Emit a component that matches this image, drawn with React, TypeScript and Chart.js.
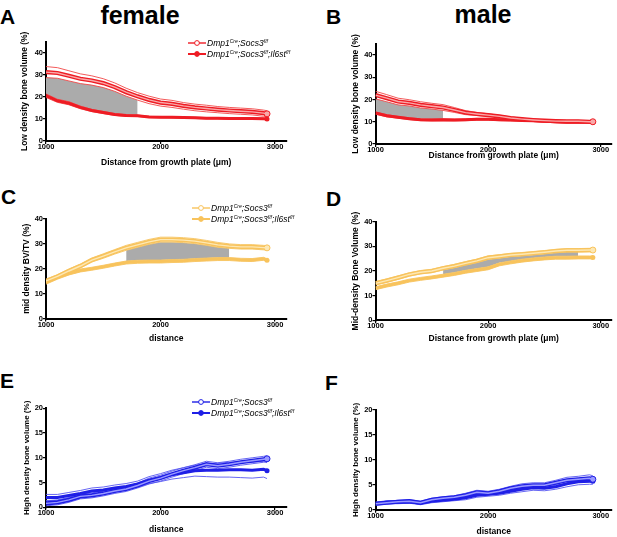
import React, { useEffect, useRef } from 'react';
import Chart from 'chart.js/auto';

// distance from growth plate (µm), shared by every panel
const distance = [1000, 1100, 1200, 1300, 1400, 1500, 1600, 1700, 1800, 1900, 2000, 2100, 2200, 2300, 2400, 2500, 2600, 2700, 2800, 2900, 2930];
const xTicks = [1000, 2000, 3000];

// A - female, low density
const aSocsMean = [31.2, 30.8, 29.5, 28.2, 27.4, 26.2, 24.4, 22.1, 20.2, 18.6, 17.4, 16.8, 15.9, 15.2, 14.7, 14.2, 13.8, 13.5, 13.2, 12.6, 12.3];
const aSocsSem = [2.5, 2.4, 2.3, 2.2, 2.1, 2.0, 1.9, 1.8, 1.7, 1.7, 1.6, 1.6, 1.5, 1.5, 1.5, 1.4, 1.4, 1.4, 1.4, 1.4, 1.4];
const aIl6Mean = [20.5, 18.2, 17.1, 15.2, 13.8, 12.9, 12.0, 11.5, 11.4, 10.9, 10.8, 10.7, 10.6, 10.5, 10.3, 10.3, 10.2, 10.2, 10.2, 10.1, 10.0];
const aIl6Sem = [0.8, 0.7, 0.7, 0.6, 0.5, 0.5, 0.4, 0.4, 0.3, 0.3, 0.3, 0.3, 0.3, 0.3, 0.3, 0.3, 0.3, 0.3, 0.3, 0.3, 0.3];
const aShade = [1000, 1800];

// B - male, low density
const bSocsMean = [22.0, 20.6, 19.1, 18.5, 17.6, 17.0, 16.4, 15.3, 14.1, 13.5, 13.0, 12.4, 11.7, 11.2, 10.8, 10.5, 10.3, 10.2, 10.2, 10.0, 10.0];
const bSocsSem = [1.7, 1.6, 1.5, 1.4, 1.4, 1.3, 1.3, 1.1, 0.9, 0.7, 0.6, 0.5, 0.5, 0.4, 0.4, 0.4, 0.4, 0.4, 0.4, 0.4, 0.4];
const bIl6Mean = [13.9, 12.7, 12.0, 11.4, 10.9, 10.8, 10.9, 10.8, 10.9, 11.1, 11.1, 10.9, 10.8, 10.6, 10.5, 10.2, 10.0, 9.8, 9.8, 9.8, 9.8];
const bIl6Sem = [0.5, 0.5, 0.4, 0.4, 0.4, 0.4, 0.4, 0.4, 0.4, 0.4, 0.4, 0.4, 0.4, 0.4, 0.4, 0.4, 0.4, 0.4, 0.4, 0.4, 0.4];
const bShade = [1000, 1600];

// C - female, mid density
const cSocsMean = [15.1, 16.9, 19.1, 21.1, 23.5, 25.1, 26.8, 28.4, 29.6, 30.8, 31.7, 31.7, 31.5, 31.1, 30.4, 29.6, 29.1, 28.8, 28.8, 28.5, 28.4];
const cSocsSem = [0.7, 0.7, 0.8, 0.8, 0.8, 0.9, 0.9, 1.0, 1.0, 1.0, 1.0, 1.0, 1.0, 1.0, 1.0, 1.0, 0.9, 0.9, 0.9, 0.9, 0.9];
const cIl6Mean = [14.4, 16.4, 18.1, 19.3, 20.0, 20.8, 21.7, 22.5, 22.8, 22.9, 22.9, 23.1, 23.2, 23.5, 23.7, 23.9, 23.9, 23.6, 23.5, 24.0, 23.4];
const cIl6Sem = [0.6, 0.6, 0.6, 0.6, 0.6, 0.6, 0.6, 0.6, 0.6, 0.6, 0.6, 0.6, 0.6, 0.6, 0.6, 0.6, 0.6, 0.6, 0.6, 0.6, 0.6];
const cShade = [1700, 2600];

// D - male, mid density
const dSocsMean = [15.0, 16.1, 17.3, 18.6, 19.5, 20.0, 21.1, 22.0, 23.1, 24.1, 25.4, 25.9, 26.5, 26.8, 27.2, 27.6, 28.1, 28.4, 28.4, 28.5, 28.5];
const dSocsSem = [0.7, 0.7, 0.7, 0.7, 0.7, 0.7, 0.7, 0.7, 0.7, 0.7, 0.7, 0.7, 0.7, 0.7, 0.7, 0.7, 0.7, 0.7, 0.7, 0.7, 0.7];
const dIl6Mean = [13.0, 14.1, 15.0, 16.1, 16.8, 17.4, 18.1, 18.8, 19.7, 20.4, 21.1, 22.7, 23.5, 24.2, 24.7, 25.1, 25.4, 25.4, 25.5, 25.5, 25.5];
const dIl6Sem = [0.6, 0.6, 0.6, 0.6, 0.6, 0.6, 0.6, 0.6, 0.6, 0.6, 0.6, 0.6, 0.6, 0.6, 0.6, 0.6, 0.6, 0.6, 0.6, 0.6, 0.6];
const dShade = [1600, 2800];

// E - female, high density
const eSocsMean = [0.8, 1.0, 1.5, 2.2, 2.4, 2.8, 3.3, 3.7, 4.4, 5.3, 5.9, 6.7, 7.4, 8.0, 8.7, 8.4, 8.7, 9.1, 9.4, 9.7, 9.8];
const eSocsSem = [0.5, 0.5, 0.5, 0.5, 0.5, 0.5, 0.5, 0.5, 0.5, 0.6, 0.6, 0.6, 0.6, 0.6, 0.6, 0.6, 0.6, 0.6, 0.6, 0.6, 0.6];
const eIl6Mean = [2.0, 2.0, 2.4, 2.8, 3.3, 3.5, 3.9, 4.2, 4.7, 5.5, 6.0, 6.6, 7.0, 7.4, 7.5, 7.5, 7.6, 7.6, 7.5, 7.7, 7.4];
const eIl6Sem = [0.6, 0.6, 0.6, 0.6, 0.6, 0.6, 0.6, 0.6, 0.6, 0.7, 0.8, 0.9, 1.0, 1.1, 1.3, 1.4, 1.5, 1.6, 1.6, 1.6, 1.6];

// F - male, high density
const fSocsMean = [1.2, 1.4, 1.6, 1.7, 1.4, 2.0, 2.3, 2.5, 2.9, 3.5, 3.3, 3.7, 4.3, 4.7, 4.9, 4.9, 5.4, 5.9, 6.1, 6.3, 6.1];
const fSocsSem = [0.3, 0.3, 0.3, 0.3, 0.3, 0.3, 0.3, 0.3, 0.4, 0.4, 0.4, 0.4, 0.4, 0.5, 0.5, 0.5, 0.5, 0.6, 0.6, 0.7, 0.7];
const fIl6Mean = [1.2, 1.5, 1.5, 1.6, 1.3, 1.7, 1.9, 2.1, 2.4, 2.9, 3.1, 3.3, 3.7, 4.1, 4.4, 4.3, 4.6, 5.2, 5.6, 5.7, 5.7];
const fIl6Sem = [0.3, 0.3, 0.3, 0.3, 0.3, 0.3, 0.3, 0.3, 0.4, 0.4, 0.4, 0.4, 0.4, 0.5, 0.5, 0.5, 0.5, 0.6, 0.6, 0.6, 0.6];

const FONT = '"Liberation Sans", Arial, Helvetica, sans-serif';
const GREY = '#ababab';
const RED = { main: '#ee1c24', light: '#f9a9a9', thin: '#f24848' };
const YELLOW = { main: '#f8c35c', light: '#fde8b4', thin: '#f6c462' };
const BLUE = { main: '#1f1fe6', light: '#9a9aff', thin: '#5656f2' };

type Palette = { main: string; light: string; thin: string };
type Group = { mean: number[]; sem: number[] };

interface PanelProps {
  left: number;
  top: number;
  width: number;
  height: number;
  yW: number;
  padTop: number;
  padRight: number;
  xH: number;
  yMax: number;
  yTicks: number[];
  yTitle: string;
  yTitlePad: number;
  yTitleSize: number;
  xTitle: string;
  pal: Palette;
  socs: Group;
  il6: Group;
  shade?: number[];
}

const Panel: React.FC<PanelProps> = (p) => {
  const canvasRef = useRef<HTMLCanvasElement | null>(null);

  useEffect(() => {
    if (!canvasRef.current) return;
    const meanPts = (g: Group) => distance.map((x, i) => ({ x, y: g.mean[i] }));
    const envPts = (g: Group, k: number) =>
      distance.map((x, i) => ({ x, y: +(g.mean[i] + k * g.sem[i]).toFixed(2) }));
    const last = distance.length - 1;

    const datasets: any[] = [];
    if (p.shade) {
      const inRange = (pt: { x: number }) => pt.x >= p.shade![0] && pt.x <= p.shade![1];
      datasets.push({
        data: envPts(p.socs, -1).filter(inRange),
        borderColor: 'rgba(0,0,0,0)', borderWidth: 0, backgroundColor: GREY,
        fill: 1, order: 10, pointRadius: 0,
      });
      datasets.push({
        data: envPts(p.il6, 1).filter(inRange),
        borderColor: 'rgba(0,0,0,0)', borderWidth: 0, fill: false, order: 10, pointRadius: 0,
      });
    }
    const thin = { borderColor: p.pal.thin, borderWidth: 0.9, fill: false, pointRadius: 0, order: 3 };
    datasets.push({ ...thin, data: envPts(p.socs, 1) });
    datasets.push({ ...thin, data: envPts(p.socs, -1) });
    datasets.push({ ...thin, data: envPts(p.il6, 1) });
    datasets.push({ ...thin, data: envPts(p.il6, -1) });
    datasets.push({
      data: meanPts(p.il6), borderColor: p.pal.main, borderWidth: 3, fill: false, order: 2,
      pointRadius: (c: any) => (c.dataIndex === last ? 2.5 : 0),
      pointBackgroundColor: p.pal.main, pointBorderColor: p.pal.main, pointBorderWidth: 0,
    });
    datasets.push({
      data: meanPts(p.socs), borderColor: p.pal.main, borderWidth: 4.2, fill: false, order: 1,
      pointRadius: (c: any) => (c.dataIndex === last ? 3 : 0),
      pointBackgroundColor: p.pal.light, pointBorderColor: p.pal.main, pointBorderWidth: 1,
    });
    datasets.push({
      data: meanPts(p.socs), borderColor: p.pal.light, borderWidth: 1.4, fill: false, order: 0,
      pointRadius: 0,
    });

    const tickFont = { family: FONT, size: 7.5, weight: 'bold' as const };
    const xTitleFont = { family: FONT, size: 8.5, weight: 'bold' as const, lineHeight: 1.2 };
    const yTitleFont = { family: FONT, size: p.yTitleSize, weight: 'bold' as const, lineHeight: 1.2 };
    const grid = { display: true, drawOnChartArea: false, drawTicks: true, tickLength: 3, color: '#000', lineWidth: 1.2 };
    const border = { display: true, color: '#000', width: 2 };

    const chart = new Chart(canvasRef.current, {
      type: 'line',
      data: { datasets },
      options: {
        animation: false,
        responsive: false,
        maintainAspectRatio: false,
        layout: { padding: { left: 0, top: p.padTop, right: p.padRight, bottom: 0 } },
        plugins: { legend: { display: false }, tooltip: { enabled: false } },
        elements: { line: { tension: 0 } },
        scales: {
          x: {
            type: 'linear',
            min: 1000,
            max: 3100,
            afterBuildTicks: (s: any) => { s.ticks = xTicks.map((v) => ({ value: v })); },
            afterFit: (s: any) => { s.height = p.xH; },
            ticks: { font: tickFont, color: '#000', padding: -1.5, maxRotation: 0, autoSkip: false, callback: (v: any) => String(v) },
            grid,
            border,
            title: { display: true, text: p.xTitle, font: xTitleFont, color: '#000', padding: { top: 0, bottom: 0 } },
          },
          y: {
            type: 'linear',
            min: 0,
            max: p.yMax,
            afterBuildTicks: (s: any) => { s.ticks = p.yTicks.map((v) => ({ value: v })); },
            afterFit: (s: any) => { s.width = p.yW; },
            ticks: { font: tickFont, color: '#000', padding: 0, autoSkip: false, callback: (v: any) => String(v) },
            grid,
            border,
            title: { display: true, text: p.yTitle, font: yTitleFont, color: '#000', padding: { top: p.yTitlePad, bottom: 0 } },
          },
        },
      },
    });
    return () => chart.destroy();
  }, [p]);

  return (
    <canvas
      ref={canvasRef}
      width={p.width}
      height={p.height}
      style={{ position: 'absolute', left: p.left, top: p.top, width: p.width, height: p.height }}
    />
  );
};

const sup: React.CSSProperties = { fontSize: 5, position: 'relative', top: -3, lineHeight: 0 };

const Legend: React.FC<{ left: number; top: number; pal: Palette }> = ({ left, top, pal }) => {
  const row = (y: number, open: boolean, label: React.ReactNode) => (
    <div style={{ position: 'absolute', left, top: y, height: 11, display: 'flex', alignItems: 'center', whiteSpace: 'nowrap' }}>
      <svg width={18} height={8} style={{ marginRight: 1 }}>
        <line x1={0} y1={4} x2={18} y2={4} stroke={pal.main} strokeWidth={open ? 1.4 : 2} />
        <circle cx={9} cy={4} r={2.4} fill={open ? '#fff' : pal.main} stroke={pal.main} strokeWidth={1} />
      </svg>
      <span style={{ fontStyle: 'italic', fontSize: 8.5, color: '#000' }}>{label}</span>
    </div>
  );
  return (
    <>
      {row(top, true, <>Dmp1<span style={sup}>Cre</span>;Socs3<span style={sup}>f/f</span></>)}
      {row(top + 11, false, <>Dmp1<span style={sup}>Cre</span>;Socs3<span style={sup}>f/f</span>;Il6st<span style={sup}>f/f</span></>)}
    </>
  );
};

const letter = (text: string, left: number, top: number) => (
  <div style={{ position: 'absolute', left, top, fontSize: 21, lineHeight: '21px', fontWeight: 'bold' }}>{text}</div>
);

const distTitle = 'Distance from growth plate (\u03bcm)';

const App: React.FC = () => {
  return (
    <div style={{ position: 'absolute', left: 0, top: 0, width: 617, height: 537, overflow: 'hidden', background: '#fff', fontFamily: FONT, color: '#000' }}>
      {letter('A', 0, 6)}
      {letter('B', 326, 6)}
      {letter('C', 1, 186)}
      {letter('D', 326, 188)}
      {letter('E', 0, 370)}
      {letter('F', 325, 372)}
      <div style={{ position: 'absolute', left: 40, top: 3, width: 200, textAlign: 'center', fontSize: 25, lineHeight: '25px', fontWeight: 'bold' }}>female</div>
      <div style={{ position: 'absolute', left: 383, top: 2, width: 200, textAlign: 'center', fontSize: 25, lineHeight: '25px', fontWeight: 'bold' }}>male</div>

      <Panel left={0} top={32} width={300} height={136} yW={46} padTop={9.6} padRight={13.5} xH={27}
        yMax={45} yTicks={[0, 10, 20, 30, 40]} yTitle="Low density bone volume (%)" yTitlePad={19.7} yTitleSize={8.5}
        xTitle={distTitle} pal={RED} socs={{ mean: aSocsMean, sem: aSocsSem }} il6={{ mean: aIl6Mean, sem: aIl6Sem }} shade={aShade} />
      <Panel left={330} top={34} width={287} height={127} yW={45.5} padTop={9.9} padRight={0.5} xH={17}
        yMax={45} yTicks={[0, 10, 20, 30, 40]} yTitle="Low density bone volume (%)" yTitlePad={20.7} yTitleSize={8.5}
        xTitle={distTitle} pal={RED} socs={{ mean: bSocsMean, sem: bSocsSem }} il6={{ mean: bIl6Mean, sem: bIl6Sem }} shade={bShade} />
      <Panel left={0} top={210} width={300} height={134} yW={46} padTop={9} padRight={13.5} xH={25.5}
        yMax={40} yTicks={[0, 10, 20, 30, 40]} yTitle="mid density BV/TV (%)" yTitlePad={21.7} yTitleSize={8.5}
        xTitle="distance" pal={YELLOW} socs={{ mean: cSocsMean, sem: cSocsSem }} il6={{ mean: cIl6Mean, sem: cIl6Sem }} shade={cShade} />
      <Panel left={330} top={212} width={287} height={132} yW={45.5} padTop={9.7} padRight={0.5} xH={23.7}
        yMax={40} yTicks={[0, 10, 20, 30, 40]} yTitle="Mid-density Bone Volume (%)" yTitlePad={20.4} yTitleSize={8.5}
        xTitle={distTitle} pal={YELLOW} socs={{ mean: dSocsMean, sem: dSocsSem }} il6={{ mean: dIl6Mean, sem: dIl6Sem }} shade={dShade} />
      <Panel left={0} top={400} width={300} height={135} yW={46} padTop={8.3} padRight={13.5} xH={27.7}
        yMax={20} yTicks={[0, 5, 10, 15, 20]} yTitle="High density bone volume (%)" yTitlePad={22} yTitleSize={8}
        xTitle="distance" pal={BLUE} socs={{ mean: eSocsMean, sem: eSocsSem }} il6={{ mean: eIl6Mean, sem: eIl6Sem }} />
      <Panel left={330} top={402} width={287} height={135} yW={45.5} padTop={8} padRight={0.5} xH={27.3}
        yMax={20} yTicks={[0, 5, 10, 15, 20]} yTitle="High density bone volume (%)" yTitlePad={21} yTitleSize={8}
        xTitle="distance" pal={BLUE} socs={{ mean: fSocsMean, sem: fSocsSem }} il6={{ mean: fIl6Mean, sem: fIl6Sem }} />

      <Legend left={188} top={37.5} pal={RED} />
      <Legend left={192} top={202.5} pal={YELLOW} />
      <Legend left={192} top={396.5} pal={BLUE} />
    </div>
  );
};

export default App;
